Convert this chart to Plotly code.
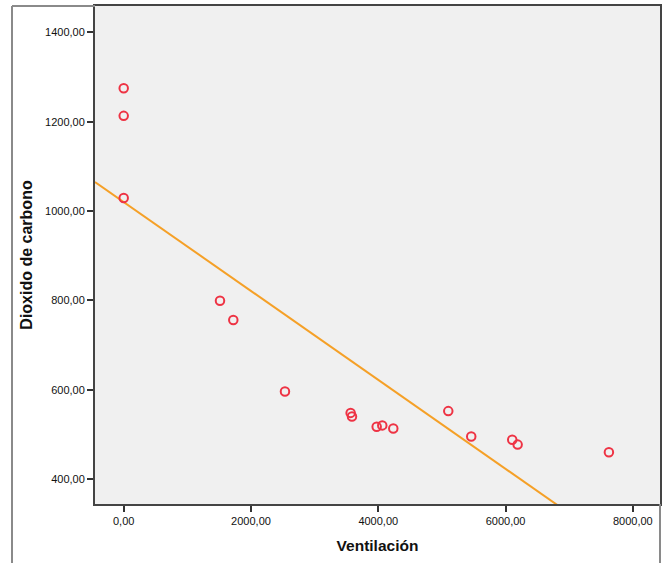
import numpy as np
import plotly.graph_objects as go

# Data
ventilacion = [0, 0, 0, 1513, 1722, 2534, 3566, 3587, 3975, 4063, 4236,
               5100, 5461, 6105, 6190, 7624]
dioxido = [1275, 1213, 1029, 799, 756, 596, 548, 540, 517, 520, 513,
           552, 495, 488, 477, 460]

x_ticks = [0, 2000, 4000, 6000, 8000]
x_ticktext = ["0,00", "2000,00", "4000,00", "6000,00", "8000,00"]
y_ticks = [400, 600, 800, 1000, 1200, 1400]
y_ticktext = ["400,00", "600,00", "800,00", "1000,00", "1200,00", "1400,00"]

x_range = [-451, 8427]
y_range = [344, 1459]

# Linear fit line
slope, intercept = np.polyfit(ventilacion, dioxido, 1)
fit_x = np.array(x_range)
fit_y = intercept + slope * fit_x

fig = go.Figure()
fig.add_trace(go.Scatter(
    x=fit_x, y=fit_y, mode="lines",
    line=dict(color="#F5A027", width=2),
    showlegend=False, hoverinfo="skip"))
fig.add_trace(go.Scatter(
    x=ventilacion, y=dioxido, mode="markers",
    marker=dict(symbol="circle-open", size=8.5, color="#EE3344",
                line=dict(width=2, color="#EE3344")),
    showlegend=False, cliponaxis=False))

font_ticks = dict(family="Liberation Sans, Arial, sans-serif", size=11, color="#111")
fig.update_layout(
    width=668, height=563,
    margin=dict(l=95, r=8, t=6, b=59, autoexpand=False),
    paper_bgcolor="white", plot_bgcolor="#F0F0F0",
    xaxis=dict(range=x_range, tickvals=x_ticks, ticktext=x_ticktext,
               showgrid=False, zeroline=False, ticks="outside", ticklen=6,
               tickcolor="#333", tickwidth=1.5, tickfont=font_ticks,
               showline=True, linecolor="#444", linewidth=2, mirror=True,
               title=dict(text="<b>Ventilación</b>", standoff=14,
                          font=dict(family="Liberation Sans, Arial, sans-serif",
                                    size=15.5, color="#111"))),
    yaxis=dict(range=y_range, tickvals=y_ticks, ticktext=y_ticktext,
               showgrid=False, zeroline=False, ticks="outside", ticklen=6,
               tickcolor="#333", tickwidth=1.5, tickfont=font_ticks,
               showline=True, linecolor="#444", linewidth=2, mirror=True,
               title=dict(text="<b>Dioxido de carbono</b>", standoff=8,
                          font=dict(family="Liberation Sans, Arial, sans-serif",
                                    size=16, color="#111"))),
)

# Outer frame (gray) surrounding chart
lx = (12 - 95) / 565
by = (504 - 563) / 498
frame = dict(color="#8A8A8A", width=2)
fig.add_shape(type="line", xref="paper", yref="paper", x0=lx, x1=lx, y0=1, y1=by, line=frame)
fig.add_shape(type="line", xref="paper", yref="paper", x0=lx, x1=0, y0=1, y1=1, line=frame)
fig.add_shape(type="line", xref="paper", yref="paper", x0=1, x1=1, y0=0, y1=by, line=frame)

fig.write_html("out.html", config={"displayModeBar": False},
               post_script="document.body.style.margin='0';document.body.style.padding='0';")
